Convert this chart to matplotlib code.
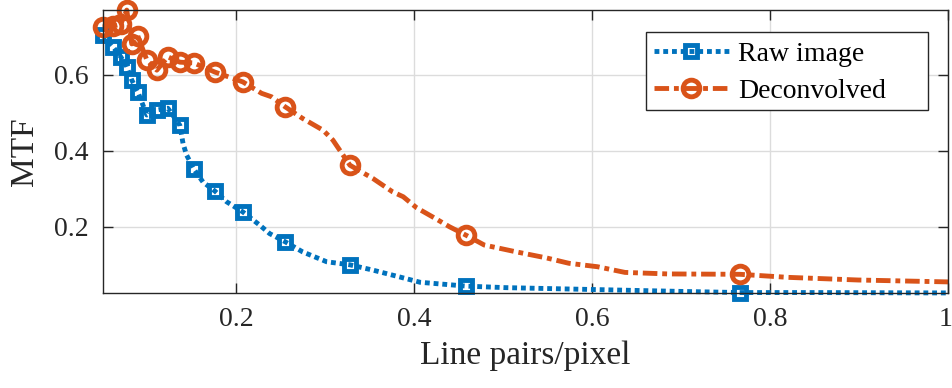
import numpy as np
import matplotlib
matplotlib.use('Agg')
import matplotlib.pyplot as plt
import matplotlib.transforms as mtransforms
from matplotlib.patches import Rectangle

# dane
raw_x = [0.0506, 0.0618, 0.0708, 0.0775, 0.0831, 0.0899, 0.1000, 0.1112, 0.1236, 0.1371,
         0.1407, 0.1446, 0.1528, 0.163, 0.1764, 0.1895, 0.2079, 0.227, 0.238, 0.2551,
         0.275, 0.302, 0.3281, 0.354, 0.384, 0.407, 0.4584, 0.502, 0.601, 0.700,
         0.7663, 0.85, 1.0]
raw_y = [0.704, 0.674, 0.647, 0.621, 0.586, 0.555, 0.494, 0.507, 0.512, 0.467,
         0.419, 0.389, 0.352, 0.318, 0.294, 0.266, 0.239, 0.204, 0.182, 0.161,
         0.134, 0.108, 0.100, 0.086, 0.068, 0.054, 0.044, 0.040, 0.035, 0.030,
         0.027, 0.027, 0.026]
raw_markers = [0, 1, 2, 3, 4, 5, 6, 7, 8, 9, 12, 14, 16, 19, 22, 26, 30]

dec_x = [0.0506, 0.0618, 0.0708, 0.0775, 0.0831, 0.0899, 0.1000, 0.1112, 0.1236, 0.1371,
         0.1528, 0.1764, 0.2079, 0.229, 0.240, 0.2551, 0.275, 0.298, 0.309, 0.3281,
         0.354, 0.376, 0.388, 0.403, 0.421, 0.440, 0.4584, 0.479, 0.515, 0.549,
         0.574, 0.606, 0.637, 0.685, 0.7663, 0.820, 0.899, 1.0]
dec_y = [0.726, 0.728, 0.733, 0.770, 0.681, 0.702, 0.639, 0.612, 0.647, 0.633,
         0.631, 0.607, 0.581, 0.551, 0.542, 0.516, 0.485, 0.454, 0.428, 0.362,
         0.327, 0.292, 0.279, 0.250, 0.226, 0.200, 0.178, 0.152, 0.134, 0.118,
         0.104, 0.095, 0.080, 0.076, 0.075, 0.067, 0.060, 0.055]
dec_markers = [0, 1, 2, 3, 4, 5, 6, 7, 8, 9, 10, 11, 12, 15, 19, 26, 34]

plt.rcParams['font.family'] = ['Liberation Serif', 'DejaVu Serif']
plt.rcParams['font.size'] = 20

W, H = 952, 388
fig = plt.figure(figsize=(W / 100, H / 100), dpi=100)
ax = fig.add_axes([0.108, 0.245, 0.888, 0.729])

# markery nie sa przycinane na krawedzi osi (jak w matlabie)
l1, = ax.plot(raw_x, raw_y, linestyle=':', color='#0072BD', linewidth=3.5,
              marker='s', markersize=9, markeredgewidth=3.5, markerfacecolor='none',
              markevery=raw_markers, label='Raw image', clip_on=False)
l1.set_dashes([1.0, 0.8])
l1.set_dash_capstyle('butt')
l2, = ax.plot(dec_x, dec_y, linestyle='-.', color='#D95319', linewidth=3.5,
              marker='o', markersize=12, markeredgewidth=3.5, markerfacecolor='none',
              markevery=dec_markers, label='Deconvolved', clip_on=False)
l2.set_dashes([3.0, 1.0, 1.0, 1.0])
l2.set_dash_capstyle('butt')

ally = raw_y + dec_y
ax.set_xlim(raw_x[0], 1.0)
ax.set_ylim(min(ally), max(ally))
ax.set_xticks([0.2, 0.4, 0.6, 0.8, 1.0])
ax.set_xticklabels(['0.2', '0.4', '0.6', '0.8', '1'])
ax.set_yticks([0.2, 0.4, 0.6])
ax.grid(color='#dcdcdc', linewidth=1)
ax.set_axisbelow(True)
ax.tick_params(direction='in', top=True, right=True, length=7, width=1, colors='#262626', pad=10)
for s in ax.spines.values():
    s.set_color('#262626')
    s.set_linewidth(1)
ax.set_xlabel('Line pairs/pixel', color='#262626', fontsize=24, labelpad=6)
ax.set_ylabel('MTF', color='#262626', fontsize=24, labelpad=10)

# ostatnia etykieta lekko w lewo, zeby sie miescila
lab = ax.get_xticklabels()[-1]
lab.set_transform(lab.get_transform() + mtransforms.ScaledTranslation(-3/100, 0, fig.dpi_scale_trans))

# legenda w stylu matlaba - ramka rysowana osobno (szersza z prawej)
leg = ax.legend(loc='upper left', bbox_to_anchor=(648 / W, 1 - 36 / H),
                bbox_transform=fig.transFigure, frameon=False,
                handlelength=2.7, handletextpad=0.35, borderpad=0.2,
                labelspacing=0.42, borderaxespad=0)
box = Rectangle((646 / W, 1 - 110 / H), 282 / W, 78 / H, transform=fig.transFigure,
                facecolor='white', edgecolor='#262626', linewidth=1, zorder=4)
fig.patches.append(box)
leg.set_zorder(5)
leg.remove()
fig.add_artist(leg)

plt.savefig('out.png', dpi=100)
